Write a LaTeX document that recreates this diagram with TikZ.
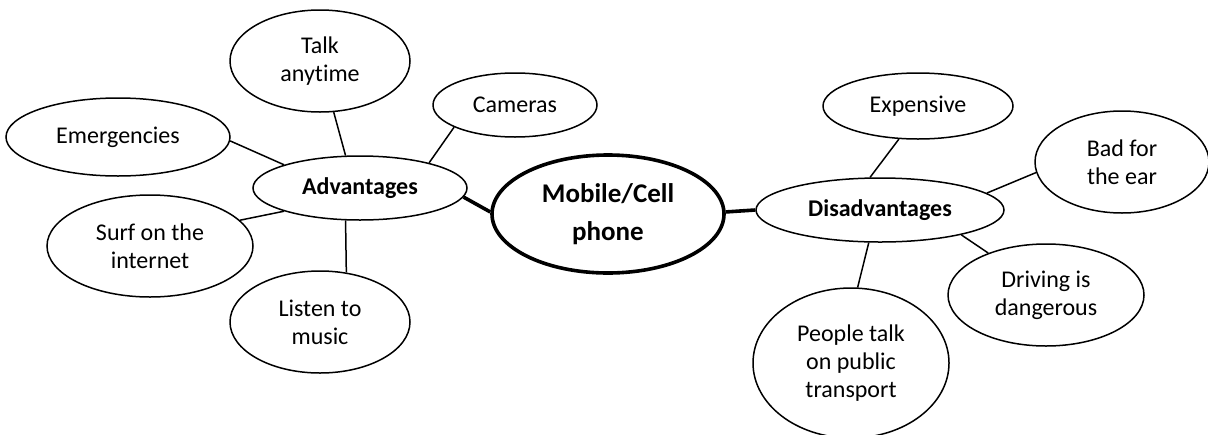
\documentclass[tikz,border=0pt]{standalone}
\usepackage{fontspec}
\setmainfont{Carlito}[Ligatures=NoCommon]
\usetikzlibrary{shapes.geometric}
\tikzset{
  bub/.style={ellipse, draw, line width=0.75pt, inner sep=0pt, align=center,
    font=\fontsize{12}{14}\selectfont},
  hub/.style={bub, font=\fontsize{12}{14}\selectfont\bfseries},
  core/.style={ellipse, draw, line width=1.8pt, inner sep=0pt, align=center,
    font=\fontsize{13.5}{19}\selectfont\bfseries},
  thin/.style={line width=0.75pt},
  thick link/.style={line width=1.8pt}
}
\begin{document}
\begin{tikzpicture}[x=0.5pt,y=-0.5pt]
\fill[white] (0,0) rectangle (1208,434);
\clip (0,0) rectangle (1208,434);
% left side
\node[bub, minimum width=90pt, minimum height=51pt] (talk) at (320,61) {Talk\\anytime};
\node[bub, minimum width=112pt, minimum height=39pt] (emerg) at (118,137) {Emergencies};
\node[hub, minimum width=107pt, minimum height=32pt] (adv) at (360,188) {Advantages};
\node[bub, minimum width=103pt, minimum height=51pt] (surf) at (150,246) {Surf on the\\internet};
\node[bub, minimum width=90pt, minimum height=51pt] (listen) at (320,322) {Listen to\\music};
\node[bub, minimum width=82pt, minimum height=32pt] (cam) at (515,105) {Cameras};
% centre
\node[core, minimum width=116pt, minimum height=59pt] (mobile) at (608,214) {Mobile/Cell\\phone};
% right side
\node[hub, minimum width=124pt, minimum height=32pt] (dis) at (880,210) {Disadvantages};
\node[bub, minimum width=95pt, minimum height=33pt] (exp) at (918,106) {Expensive};
\node[bub, minimum width=87pt, minimum height=51pt] (bad) at (1122,162) {Bad for\\the ear};
\node[bub, minimum width=98pt, minimum height=51pt] (drive) at (1046,295) {Driving is\\dangerous};
\node[bub, minimum width=98pt, minimum height=75pt] (people) at (851,363) {People talk\\on public\\transport};
% connectors
\draw[thin] (emerg.-2) -- (adv.163);
\draw[thin] (talk.-75) -- (adv.114);
\draw[thin] (cam.-160) -- (adv.20);
\draw[thin] (surf.16) -- (adv.-163);
\draw[thin] (adv.-114) -- (listen.62);
\draw[thick link] (adv.-5) -- (mobile.179);
\draw[thick link] (mobile.1) -- (dis.west);
\draw[thin] (exp.-120) -- (dis.107);
\draw[thin] (bad.-173) -- (dis.9);
\draw[thin] (drive.144) -- (dis.-17);
\draw[thin] (people.85) -- (dis.-109);
\end{tikzpicture}
\end{document}
